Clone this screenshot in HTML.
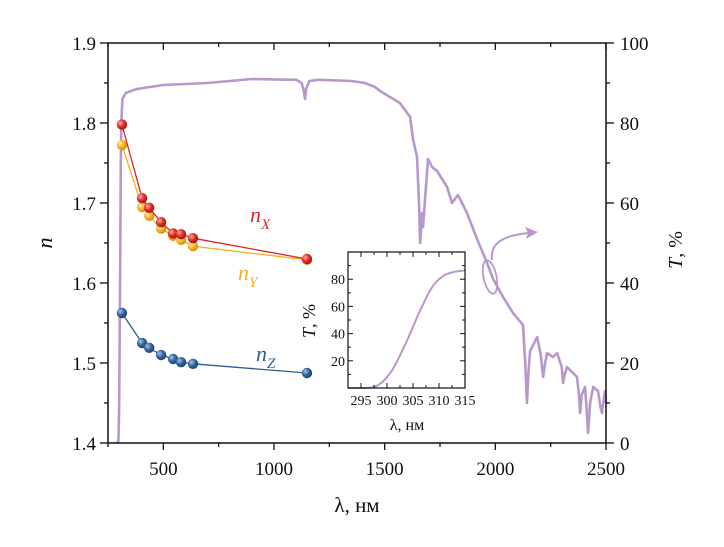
<!DOCTYPE html>
<html><head><meta charset="utf-8"><style>
body{margin:0;background:#fff;width:724px;height:547px;overflow:hidden}
svg{display:block}
text{font-family:"Liberation Serif",serif}
</style></head><body>
<svg id="chart" width="724" height="547" viewBox="0 0 724 547" xmlns="http://www.w3.org/2000/svg">
<defs>
<radialGradient id="gR" cx="0.35" cy="0.35" r="0.7"><stop offset="0" stop-color="#ffb0a0"/><stop offset="0.5" stop-color="#e0302a"/><stop offset="1" stop-color="#a01010"/></radialGradient>
<radialGradient id="gY" cx="0.35" cy="0.35" r="0.7"><stop offset="0" stop-color="#fff2b0"/><stop offset="0.5" stop-color="#f7b52a"/><stop offset="1" stop-color="#d08a00"/></radialGradient>
<radialGradient id="gB" cx="0.35" cy="0.35" r="0.7"><stop offset="0" stop-color="#a8c4e8"/><stop offset="0.5" stop-color="#3566a0"/><stop offset="1" stop-color="#1c3d66"/></radialGradient>
</defs>
<g id="main"></g>
<g id="inset"></g>
</svg>
<script>
// ---- data ----
const lambdaN = [313, 404, 436, 490, 544, 580, 634, 1149];
const nX = [1.798, 1.706, 1.694, 1.676, 1.662, 1.661, 1.656, 1.630];
const nY = [1.7725, 1.695, 1.684, 1.668, 1.659, 1.654, 1.646, 1.629];
const nZ = [1.5625, 1.525, 1.519, 1.510, 1.505, 1.501, 1.499, 1.4875];
const lambdaT = [290,297,300,302,305,308,310,315,330,380,500,700,900,1100,1125,1135,1140,1145,1160,1200,1350,1411,1456,1479,1569,1615,1628,1646,1655,1660,1669,1673,1696,1714,1737,1782,1804,1831,1872,1917,1963,1990,2035,2080,2125,2135,2143,2150,2157,2189,2205,2216,2225,2234,2261,2279,2300,2306,2313,2324,2369,2378,2383,2390,2405,2412,2419,2428,2442,2464,2475,2482,2490,2496,2500];
const transT = [0,0.5,8,20,45,70,80,86,87.5,88.5,89.5,90,91,90.8,90,88,86,88.5,90.5,90.8,90.5,90,89,88,85,81.5,76,71.5,60,50,57.5,54,71,69,68,64,60,62,57.5,51,45,41,36.5,32.5,29.5,20,10,18,23,26.5,22,16.5,20,22.5,21.5,22.5,19,15,17,19,16.5,12,7.5,12,14,9,2.5,10,14,13,9,7.5,11,13,10];
const xTicks = [500, 1000, 1500, 2000, 2500];
const nTicks = [1.4, 1.5, 1.6, 1.7, 1.8, 1.9];
const tTicks = [0, 20, 40, 60, 80, 100];
const insetLambda = [292.5,293,294,295,296,297,298,299,300,301,302,303,304,305,306,307,308,309,310,311,312,313,314,315];
const insetT = [0,0,0,0,0,0.3,1.5,4,8,13,20,28,36,45,54,62,70,76,80,83,84.5,85.5,86,86.5];
const insetXTicks = [295, 300, 305, 310, 315];
const insetYTicks = [20, 40, 60, 80];

const NS = "http://www.w3.org/2000/svg";
function mk(tag, attrs, parent){const e=document.createElementNS(NS,tag);for(const k in attrs)e.setAttribute(k,attrs[k]);parent.appendChild(e);return e;}
const main = document.getElementById('main');
const inset = document.getElementById('inset');
const L=108,R=606,T=43,B=443;
const xs = v => L + (v-250)*(R-L)/2250;
const yn = v => B - (v-1.4)*(B-T)/0.5;
const yt = v => B - v*(B-T)/100;
const purple = "#b898cc";

let d = lambdaT.map((l,i)=>(i?'L':'M')+xs(l).toFixed(1)+','+yt(transT[i]).toFixed(1)).join(' ');
let p = mk('path',{d:d,fill:'none',stroke:purple,'stroke-width':2.6,'stroke-linejoin':'round'},main);



let fr = mk('rect',{x:L,y:T,width:R-L,height:B-T,fill:'none',stroke:'#111','stroke-width':1.5},main);



for(let v=250; v<=2500; v+=250){
  const x=xs(v), major = v%500===0;
  mk('line',{x1:x,y1:B,x2:x,y2:B+(major?7:4),stroke:'#111','stroke-width':1.3},main);
  mk('line',{x1:x,y1:T,x2:x,y2:T+(major?7:4),stroke:'#111','stroke-width':1.3},main);
}
xTicks.forEach(v=>{const t=mk('text',{x:xs(v),y:B+32,'text-anchor':'middle','font-size':19,fill:'#111'},main);t.textContent=v;

});
for(let i=0;i<=10;i++){const v=1.4+i*0.05,y=yn(v),major=i%2===0;
  mk('line',{x1:L,y1:y,x2:L-(major?8:4),y2:y,stroke:'#111','stroke-width':1.3},main);}
nTicks.forEach(v=>{const t=mk('text',{x:L-12,y:yn(v)+7,'text-anchor':'end','font-size':19,fill:'#111'},main);t.textContent=v.toFixed(1);

});
for(let i=0;i<=10;i++){const v=i*10,y=yt(v),major=i%2===0;
  mk('line',{x1:R,y1:y,x2:R+(major?8:4),y2:y,stroke:'#111','stroke-width':1.3},main);}
tTicks.forEach(v=>{const t=mk('text',{x:R+14,y:yt(v)+7,'text-anchor':'start','font-size':19,fill:'#111'},main);t.textContent=v;

});

let at = mk('text',{x:0,y:0,transform:'translate(52,243) rotate(-90)','text-anchor':'middle','font-size':22,'font-style':'italic',fill:'#111'},main);
at.textContent='n';


at = mk('text',{x:0,y:0,transform:'translate(682,250) rotate(-90)','text-anchor':'middle','font-size':20,fill:'#111'},main);
at.innerHTML='<tspan font-style="italic">T</tspan>, %';


at = mk('text',{x:357,y:512,'text-anchor':'middle','font-size':21,fill:'#111'},main);
at.textContent='λ, нм';



function series(vals, color, grad, name){
  const dd = lambdaN.map((l,i)=>(i?'L':'M')+xs(l).toFixed(1)+','+yn(vals[i]).toFixed(1)).join(' ');
  const ln = mk('path',{d:dd,fill:'none',stroke:color,'stroke-width':1.3},main);
  
  
  lambdaN.forEach((l,i)=>{
    const c = mk('circle',{cx:xs(l),cy:yn(vals[i]),r:5.2,fill:'url(#'+grad+')'},main);
    
    
  });
}
series(nY,'#f2b020','gY','ny');
series(nX,'#d9262a','gR','nx');
series(nZ,'#2e5f92','gB','nz');

function lab(x,y,sub,color,name){
  const t=mk('text',{x:x,y:y,'font-size':22,'font-style':'italic',fill:color},main);
  t.innerHTML='n<tspan font-size="15" dy="7">'+sub+'</tspan>';
  
  
}
lab(250,222,'X','#d9262a','nx-label');
lab(238,280,'Y','#f2b020','ny-label');
lab(256,361,'Z','#2e5f92','nz-label');

let el = mk('ellipse',{cx:490,cy:277,rx:6.5,ry:17,transform:'rotate(-12 490 277)',fill:'none',stroke:purple,'stroke-width':1.8},main);


let ar = mk('path',{d:'M492,260 C490,245 500,236 528,233',fill:'none',stroke:purple,'stroke-width':2},main);


mk('path',{d:'M538,232 L525,227 L528,233 L526,239 Z',fill:purple},main);

const iL=348,iR=465,iT=252,iB=388;
const ix = v => iL + (v-292.5)*(iR-iL)/22.5;
const iy = v => iB - v*(iB-iT)/100;
mk('rect',{x:iL,y:iT,width:iR-iL,height:iB-iT,fill:'#fff',stroke:'none'},inset);
let ic = mk('path',{d:insetLambda.map((l,i)=>(i?'L':'M')+ix(l).toFixed(1)+','+iy(insetT[i]).toFixed(1)).join(' '),fill:'none',stroke:purple,'stroke-width':2},inset);


let ifr = mk('rect',{x:iL,y:iT,width:iR-iL,height:iB-iT,fill:'none',stroke:'#111','stroke-width':1.2},inset);


for(let v=292.5; v<=315; v+=2.5){const x=ix(v),mj=(v%5===0);
  mk('line',{x1:x,y1:iB,x2:x,y2:iB-(mj?5:3),stroke:'#111','stroke-width':1},inset);
  mk('line',{x1:x,y1:iT,x2:x,y2:iT+(mj?5:3),stroke:'#111','stroke-width':1},inset);}
for(let v=0; v<=100; v+=10){const y=iy(v),mj=(v%20===0);
  mk('line',{x1:iL,y1:y,x2:iL+(mj?5:3),y2:y,stroke:'#111','stroke-width':1},inset);
  mk('line',{x1:iR,y1:y,x2:iR-(mj?5:3),y2:y,stroke:'#111','stroke-width':1},inset);}
insetXTicks.forEach(v=>{const t=mk('text',{x:ix(v),y:iB+17,'text-anchor':'middle','font-size':14,fill:'#111'},inset);t.textContent=v;

});
insetYTicks.forEach(v=>{const t=mk('text',{x:iL-3,y:iy(v)+5,'text-anchor':'end','font-size':14,fill:'#111'},inset);t.textContent=v;

});
let it = mk('text',{x:0,y:0,transform:'translate(315,321) rotate(-90)','text-anchor':'middle','font-size':18,fill:'#111'},inset);
it.innerHTML='<tspan font-style="italic">T</tspan>, %';


it = mk('text',{x:407,y:430,'text-anchor':'middle','font-size':16,fill:'#111'},inset);
it.textContent='λ,  нм';


</script>
</body></html>
